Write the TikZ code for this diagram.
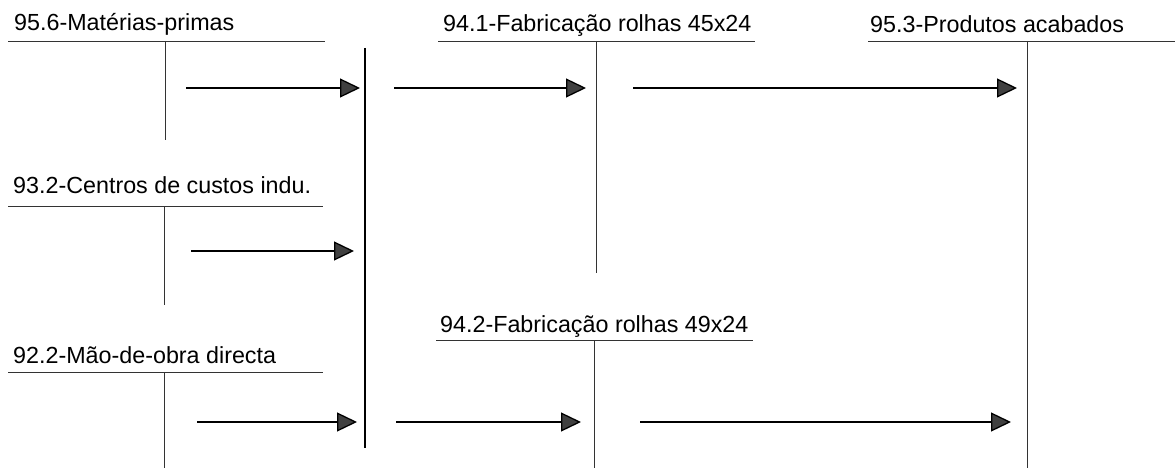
\documentclass[tikz,border=0pt]{standalone}
\usepackage{fontspec}
\setmainfont{Liberation Sans}
\usetikzlibrary{arrows.meta}

\begin{document}
\begin{tikzpicture}[x=1pt,y=-1pt,
  conta/.style={anchor=base west, inner sep=0pt, font=\fontsize{23.3}{27}\selectfont},
  razao/.style={line width=0.8pt, black!80},
  fluxo/.style={line width=1.3pt, -{Triangle[length=20pt,width=19pt,fill=black!75]}}]
\useasboundingbox (0,0) rectangle (1175,468);
% titulos das contas
\node[conta] (mp) at (14,31) {95.6-Matérias-primas};
\node[conta] (cc) at (13,193) {93.2-Centros de custos indu.};
\node[conta] (mo) at (13,363) {92.2-Mão-de-obra directa};
\node[conta] (f45) at (443,32) {94.1-Fabricação rolhas 45x24};
\node[conta] (f49) at (440,332) {94.2-Fabricação rolhas 49x24};
\node[conta] (pa) at (870,33) {95.3-Produtos acabados};
% contas em T
\draw[razao] (8,41) -- (325,41) (165,41) -- (165,140);
\draw[razao] (8,206) -- (323,206) (164,206) -- (164,305);
\draw[razao] (8,372) -- (323,372) (164,372) -- (164,468);
\draw[razao] (438,41) -- (755,41) (596,41) -- (596,273);
\draw[razao] (436,340) -- (753,340) (594,340) -- (594,468);
\draw[razao] (868,41) -- (1175,41) (1027,41) -- (1027,468);
% coluna de imputacao
\coordinate (col-top) at (365,48);
\coordinate (col-bot) at (365,448);
\draw[line width=1.4pt] (col-top) -- (col-bot);
% pontos das setas
\coordinate (mp-a) at (186,88);
\coordinate (col-a) at (360,88);
\coordinate (col-b) at (394,88);
\coordinate (f45-a) at (586,88);
\coordinate (f45-b) at (633,88);
\coordinate (pa-a) at (1017,88);
\coordinate (cc-a) at (191,251);
\coordinate (col-c) at (354,251);
\coordinate (mo-a) at (197,422);
\coordinate (col-d) at (357,422);
\coordinate (col-e) at (396,422);
\coordinate (f49-a) at (581,422);
\coordinate (f49-b) at (640,422);
\coordinate (pa-b) at (1011,422);
% movimentos
\draw[fluxo] (mp-a) -- (col-a);
\draw[fluxo] (col-b) -- (f45-a);
\draw[fluxo] (f45-b) -- (pa-a);
\draw[fluxo] (cc-a) -- (col-c);
\draw[fluxo] (mo-a) -- (col-d);
\draw[fluxo] (col-e) -- (f49-a);
\draw[fluxo] (f49-b) -- (pa-b);
\end{tikzpicture}
\end{document}
